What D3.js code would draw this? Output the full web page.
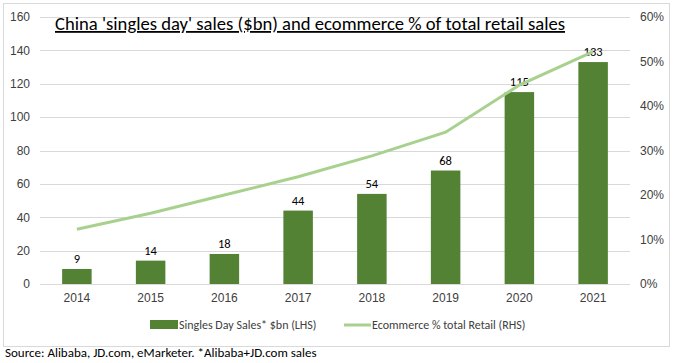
<!DOCTYPE html>
<html>
<head>
<meta charset="utf-8">
<script src="https://cdn.jsdelivr.net/npm/d3@7"></script>
<style>
  body { margin: 0; background: #fff; }
  svg { display: block; font-family: Carlito, Calibri, "Liberation Sans", sans-serif; }
</style>
</head>
<body>
<svg width="676" height="363"></svg>
<script>
// data
var years = ["2014", "2015", "2016", "2017", "2018", "2019", "2020", "2021"];
var sales = [9, 14, 18, 44, 54, 68, 115, 133];             // $bn, left axis
var ecomShare = [12.3, 15.9, 20.0, 24.1, 28.8, 34.1, 44.7, 52.2]; // %, right axis
var leftTicks = [0, 20, 40, 60, 80, 100, 120, 140, 160];
var rightTicks = [0, 10, 20, 30, 40, 50, 60];

var svg = d3.select("svg"),
  margin = {top: 17, right: 46, bottom: 79, left: 40},
  width = 676 - margin.left - margin.right,
  height = 363 - margin.top - margin.bottom;

var barColor = "#548235", lineColor = "#a9d18e", gridColor = "#d9d9d9";

// chart frame
svg.append("rect")
  .attr("x", 3.5).attr("y", 3.5)
  .attr("width", 666).attr("height", 343)
  .attr("fill", "#fff").attr("stroke", gridColor);

var x = d3.scaleBand().domain(years).range([0, width]).paddingInner(0.6).paddingOuter(0.3),
  y = d3.scaleLinear().domain([0, 160]).range([height, 0]),
  y2 = d3.scaleLinear().domain([0, 60]).range([height, 0]);

var g = svg.append("g")
  .attr("transform", "translate(" + margin.left + "," + margin.top + ")");

// gridlines
g.selectAll(".grid")
  .data(leftTicks)
  .enter().append("line")
  .attr("class", "grid")
  .attr("x1", 0).attr("x2", width)
  .attr("y1", function(d) { return Math.round(y(d)) + 0.5; })
  .attr("y2", function(d) { return Math.round(y(d)) + 0.5; })
  .attr("stroke", gridColor);

// left axis
var axL = g.append("g").call(d3.axisLeft(y).tickValues(leftTicks).tickSize(0).tickPadding(10));
axL.select(".domain").remove();
axL.selectAll("text").attr("font-size", 12).attr("fill", "#404040").attr("font-family", null);

// right axis
var axR = g.append("g")
  .attr("transform", "translate(" + width + ",0)")
  .call(d3.axisRight(y2).tickValues(rightTicks).tickSize(0).tickPadding(10).tickFormat(function(d) { return d + "%"; }));
axR.select(".domain").remove();
axR.selectAll("text").attr("font-size", 12).attr("fill", "#404040").attr("font-family", null);

// bottom axis
var axB = g.append("g")
  .attr("transform", "translate(0," + height + ")")
  .call(d3.axisBottom(x).tickSize(0).tickPadding(9));
axB.select(".domain").remove();
axB.selectAll("text").attr("font-size", 12).attr("fill", "#404040").attr("font-family", null);

// bars
g.selectAll(".bar")
  .data(sales)
  .enter().append("rect")
  .attr("class", "bar")
  .attr("x", function(d, i) { return x(years[i]); })
  .attr("y", function(d) { return y(d); })
  .attr("width", x.bandwidth())
  .attr("height", function(d) { return height - y(d); })
  .attr("fill", barColor);

// bar labels
g.selectAll(".lbl")
  .data(sales)
  .enter().append("text")
  .attr("class", "lbl")
  .attr("x", function(d, i) { return x(years[i]) + x.bandwidth() / 2; })
  .attr("y", function(d) { return y(d) - 6; })
  .attr("text-anchor", "middle")
  .attr("font-size", 12.5)
  .attr("fill", "#000")
  .text(function(d) { return d; });

// ecommerce line
var line = d3.line()
  .x(function(d, i) { return x(years[i]) + x.bandwidth() / 2; })
  .y(function(d) { return y2(d); });

g.append("path")
  .datum(ecomShare)
  .attr("fill", "none")
  .attr("stroke", lineColor)
  .attr("stroke-width", 3)
  .attr("d", line);

// title
svg.append("text")
  .attr("x", 55).attr("y", 30)
  .attr("font-size", 18)
  .attr("fill", "#000")
  .attr("text-decoration", "underline")
  .attr("textLength", 510).attr("lengthAdjust", "spacingAndGlyphs")
  .text("China 'singles day' sales ($bn) and ecommerce % of total retail sales");

// legend
var leg = svg.append("g").attr("transform", "translate(150,325)");
leg.append("rect").attr("x", 0).attr("y", -5).attr("width", 28).attr("height", 9).attr("fill", barColor);
leg.append("text").attr("x", 29).attr("y", 4).attr("font-size", 12).attr("fill", "#404040")
  .text("Singles Day Sales* $bn (LHS)");
leg.append("line").attr("x1", 194).attr("x2", 221).attr("y1", 0).attr("y2", 0)
  .attr("stroke", lineColor).attr("stroke-width", 3);
leg.append("text").attr("x", 222).attr("y", 4).attr("font-size", 12).attr("fill", "#404040")
  .text("Ecommerce % total Retail (RHS)");

// source note
svg.append("text")
  .attr("x", 5).attr("y", 357)
  .attr("font-size", 13)
  .attr("fill", "#000")
  .text("Source:  Alibaba, JD.com, eMarketer. *Alibaba+JD.com sales");
</script>
</body>
</html>
